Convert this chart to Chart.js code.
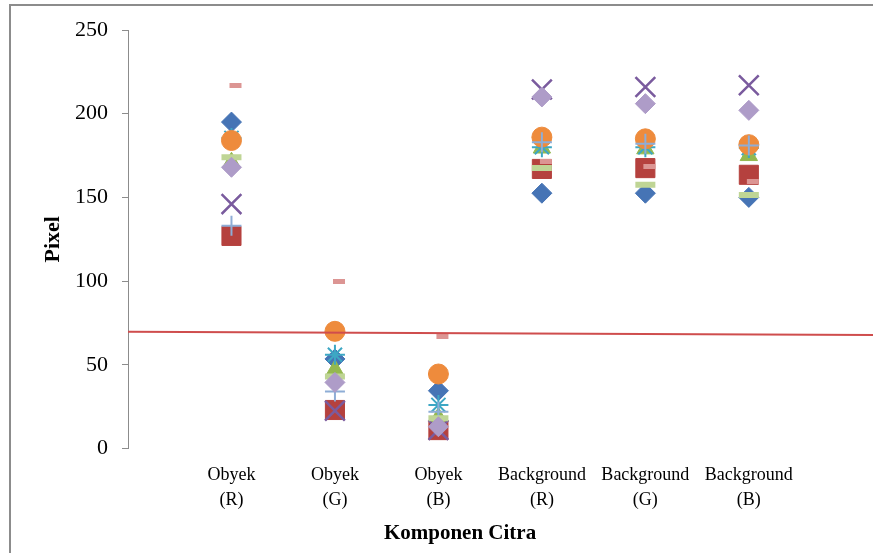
<!DOCTYPE html>
<html>
<head>
<meta charset="utf-8">
<title>Komponen Citra</title>
<script src="https://cdn.jsdelivr.net/npm/chart.js@4.4.1/dist/chart.umd.min.js"></script>
<style>
  html, body { margin: 0; padding: 0; background: #ffffff; }
  #wrap { width: 873px; height: 553px; position: relative; }
</style>
</head>
<body>
<div id="wrap"><canvas id="chart" width="873" height="553"></canvas></div>
<script>
// Colour components of object and background, one value per sample per component
const categories = [
  ['Obyek', '(R)'], ['Obyek', '(G)'], ['Obyek', '(B)'],
  ['Background', '(R)'], ['Background', '(G)'], ['Background', '(B)']
];
const yTicks = [0, 50, 100, 150, 200, 250];

const sample1  = [195, 53.5, 34.5, 152.5, 152.5, 150];
const sample2  = [127, 23, 11, 167, 167.5, 163.5];
const sample3  = [171, 47, 18.5, 179.5, 179, 175];
const sample4  = [146, 22.5, 11, 214.5, 216, 217];
const sample5  = [185.5, 56, 26, 180, 180, 179.5];
const sample6  = [184, 70, 44.5, 186, 185, 181.5];
const sample7  = [217, 100, 67, 171.5, 168.5, 159.5];
const sample8  = [133, 34, 22, 183, 182, 181];
const sample9  = [174, 43, 18, 167.5, 157.5, 151.5];
const sample10 = [168, 39.5, 13, 210, 206, 202];

// Threshold line drawn across the plot
const thresholdX = [0, 7.2];
const thresholdY = [69.8, 67.8];

// Short dash marker that sits slightly right of its point
function dashMarker(color) {
  const c = document.createElement('canvas');
  c.width = 24;
  c.height = 5;
  const g = c.getContext('2d');
  g.fillStyle = color;
  g.fillRect(10, 0, 12, 5);
  return c;
}

const series = [
  { values: sample1,  color: '#4674B5', style: 'rectRot',  radius: 10,   width: 1 },
  { values: sample2,  color: '#B5413E', style: 'rect',     radius: 13.5, width: 1 },
  { values: sample3,  color: '#94B84F', style: 'triangle', radius: 10,   width: 1 },
  { values: sample4,  color: '#7A5B9E', style: 'crossRot', radius: 14,   width: 2.5 },
  { values: sample5,  color: '#3DA7C4', style: 'star',     radius: 10,   width: 2 },
  { values: sample6,  color: '#EE8B3C', style: 'circle',   radius: 10,   width: 1 },
  { values: sample7,  color: '#DC9593', style: 'dash',     radius: 6,    width: 5 },
  { values: sample8,  color: '#8EADD6', style: 'cross',    radius: 10,   width: 2 },
  { values: sample9,  color: '#BFD595', style: 'line',     radius: 10,   width: 6 },
  { values: sample10, color: '#AE9CC8', style: 'rectRot',  radius: 10,   width: 1 }
];

const datasets = series.map((s, i) => ({
  label: 'Sampel ' + (i + 1),
  data: s.values.map((v, j) => ({ x: j + 1, y: v })),
  pointStyle: s.style === 'dash' ? dashMarker(s.color) : s.style,
  pointRadius: s.radius,
  pointHoverRadius: s.radius,
  pointBorderWidth: s.width,
  backgroundColor: s.color,
  borderColor: s.color,
  showLine: false,
  order: series.length - i
}));

datasets.push({
  label: 'Batas',
  data: thresholdX.map((x, i) => ({ x: x, y: thresholdY[i] })),
  showLine: true,
  borderColor: '#CF4D4D',
  borderWidth: 2,
  pointRadius: 0,
  fill: false,
  clip: false,
  order: -1
});

const SERIF = '"Liberation Serif", "Times New Roman", serif';

// Outer frame and the horizontal axis caption
const framePlugin = {
  id: 'frame',
  beforeDraw(chart) {
    const ctx = chart.ctx;
    ctx.save();
    ctx.fillStyle = '#ffffff';
    ctx.fillRect(0, 0, chart.width, chart.height);
    ctx.strokeStyle = '#8C8C8C';
    ctx.lineWidth = 2;
    ctx.beginPath();
    ctx.moveTo(10, chart.height);
    ctx.lineTo(10, 5);
    ctx.lineTo(chart.width, 5);
    ctx.stroke();
    ctx.restore();
  },
  afterDraw(chart) {
    const ctx = chart.ctx;
    ctx.save();
    ctx.fillStyle = '#000000';
    ctx.font = 'bold 21px ' + SERIF;
    ctx.textAlign = 'center';
    ctx.textBaseline = 'middle';
    ctx.fillText('Komponen Citra', 460, 534);
    ctx.restore();
  }
};

new Chart(document.getElementById('chart'), {
  type: 'scatter',
  data: { datasets: datasets },
  plugins: [framePlugin],
  options: {
    responsive: false,
    animation: false,
    layout: {
      autoPadding: false,
      padding: { top: 30, right: 0, bottom: 0, left: 0 }
    },
    plugins: {
      legend: { display: false },
      tooltip: { enabled: false }
    },
    scales: {
      x: {
        type: 'linear',
        min: 0,
        max: 7.2,
        afterFit(scale) {
          scale.height = 104.5;
          scale.paddingLeft = 0;
          scale.paddingRight = 0;
        },
        afterBuildTicks(scale) {
          scale.ticks = categories.map((_, i) => ({ value: i + 1 }));
        },
        grid: { display: false },
        border: { display: false },
        ticks: {
          autoSkip: false,
          maxRotation: 0,
          padding: 6,
          color: '#000000',
          font: { family: SERIF, size: 18, lineHeight: 25 / 18 },
          callback(value) {
            const c = categories[Math.round(value) - 1];
            return c ? c : '';
          }
        }
      },
      y: {
        min: 0,
        max: 250,
        afterFit(scale) { scale.width = 128; },
        afterBuildTicks(scale) {
          scale.ticks = yTicks.map(v => ({ value: v }));
        },
        grid: {
          drawOnChartArea: false,
          drawTicks: true,
          tickLength: 6,
          color: '#8C8C8C'
        },
        border: { display: true, color: '#8C8C8C', width: 1 },
        ticks: {
          padding: 14,
          color: '#000000',
          font: { family: SERIF, size: 22 }
        },
        title: {
          display: true,
          text: 'Pixel',
          color: '#000000',
          font: { family: SERIF, size: 22, weight: 'bold' },
          padding: { top: 40, bottom: 0 }
        }
      }
    }
  }
});
</script>
</body>
</html>
